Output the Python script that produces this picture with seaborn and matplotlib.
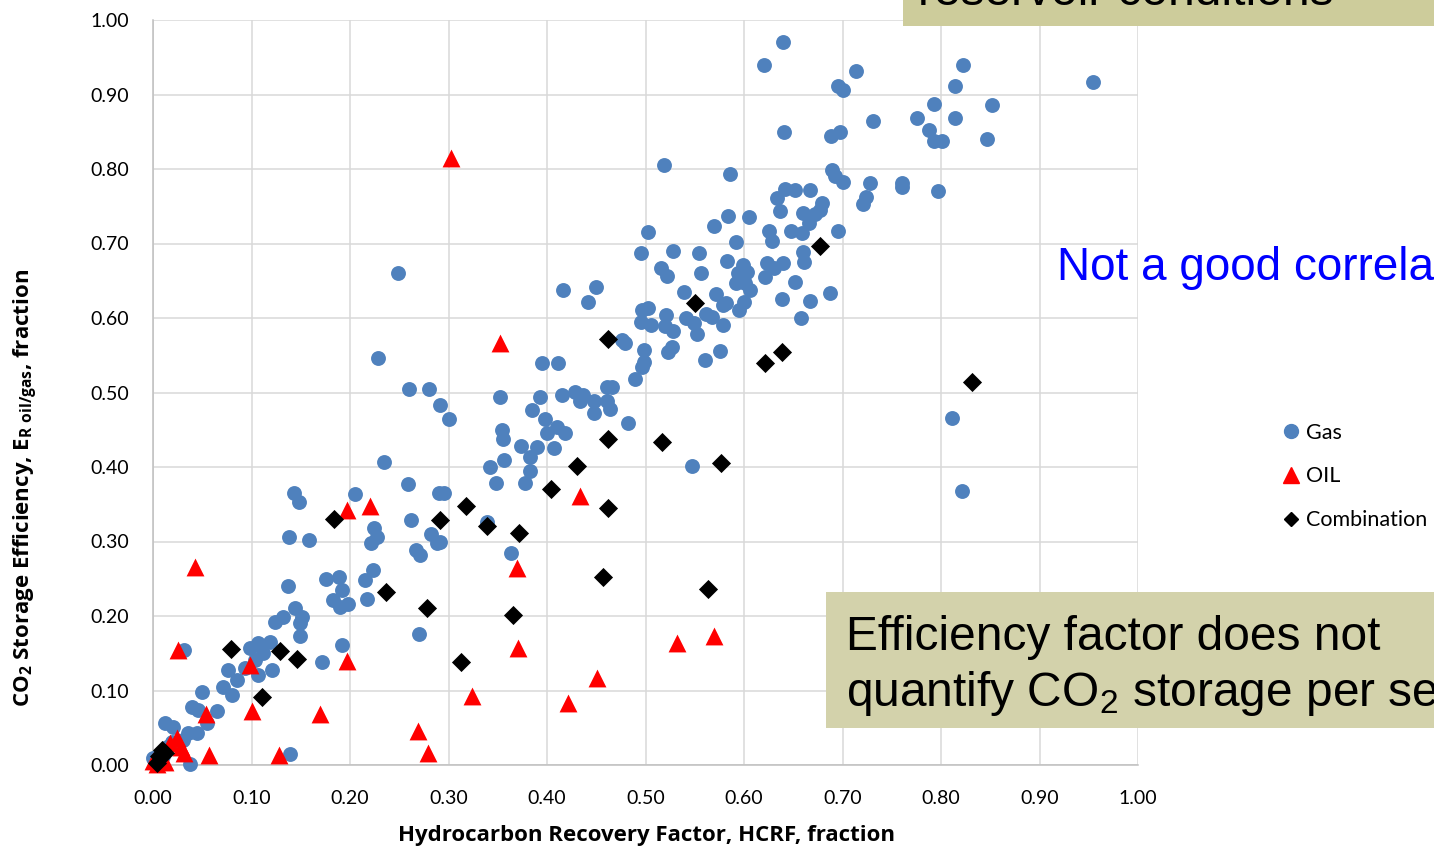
import numpy as np
import pandas as pd
import matplotlib
matplotlib.use('Agg')
import matplotlib.pyplot as plt
from matplotlib import font_manager
from matplotlib.lines import Line2D
from matplotlib.patches import Rectangle
import seaborn as sns

# data: (HCRF, E_R)
gas_x = [0.640, 0.620, 0.714, 0.822, 0.814, 0.695, 0.700, 0.954, 0.793, 0.852,
         0.776, 0.814, 0.731, 0.788, 0.793, 0.801, 0.847, 0.641, 0.697, 0.688,
         0.519, 0.586, 0.689, 0.692, 0.700, 0.728, 0.760, 0.760, 0.797, 0.724,
         0.721, 0.642, 0.652, 0.667, 0.634, 0.679, 0.637, 0.660, 0.672, 0.677,
         0.666, 0.584, 0.605, 0.570, 0.503, 0.625, 0.628, 0.648, 0.659, 0.695,
         0.592, 0.495, 0.528, 0.554, 0.660, 0.661, 0.583, 0.599, 0.594, 0.592,
         0.601, 0.606, 0.623, 0.630, 0.621, 0.640, 0.516, 0.522, 0.556, 0.652,
         0.450, 0.442, 0.416, 0.539, 0.572, 0.579, 0.595, 0.600, 0.639, 0.667,
         0.687, 0.658, 0.496, 0.503, 0.495, 0.506, 0.521, 0.520, 0.528, 0.541,
         0.552, 0.549, 0.561, 0.568, 0.579, 0.476, 0.479, 0.603, 0.582, 0.249,
         0.811, 0.821, 0.498, 0.498, 0.523, 0.527, 0.560, 0.576,
         0.448, 0.464, 0.482, 0.489, 0.496, 0.415, 0.428, 0.437, 0.434, 0.448,
         0.461, 0.461, 0.466, 0.393, 0.385, 0.398, 0.400, 0.410, 0.418, 0.407,
         0.390, 0.383, 0.383, 0.378, 0.352, 0.354, 0.355, 0.374, 0.356, 0.342,
         0.348, 0.395, 0.411, 0.291, 0.301, 0.295, 0.291, 0.547, 0.363, 0.339,
         0.228, 0.260, 0.280, 0.235, 0.259, 0.290, 0.143, 0.148, 0.205, 0.224,
         0.227, 0.221, 0.262, 0.282, 0.288, 0.267, 0.271, 0.138, 0.158,
         0.137, 0.176, 0.189, 0.192, 0.183, 0.190, 0.198, 0.215, 0.223, 0.217,
         0.124, 0.132, 0.144, 0.151, 0.149, 0.149, 0.098, 0.107, 0.119, 0.112,
         0.104, 0.121, 0.107, 0.076, 0.085, 0.071, 0.080, 0.093, 0.031, 0.172,
         0.192, 0.270, 0.050, 0.040, 0.046, 0.065, 0.055, 0.012, 0.020, 0.036,
         0.045, 0.030, 0.019, 0.014, 0.038, 0.139, 0.000, 0.005, 0.010, 0.006]
gas_y = [0.970, 0.940, 0.931, 0.939, 0.911, 0.911, 0.906, 0.917, 0.887, 0.886,
         0.868, 0.868, 0.865, 0.852, 0.837, 0.838, 0.840, 0.849, 0.850, 0.844,
         0.806, 0.793, 0.799, 0.790, 0.783, 0.781, 0.781, 0.776, 0.771, 0.763,
         0.753, 0.773, 0.772, 0.772, 0.761, 0.754, 0.744, 0.741, 0.740, 0.745,
         0.727, 0.737, 0.736, 0.723, 0.715, 0.717, 0.703, 0.717, 0.714, 0.717,
         0.702, 0.687, 0.690, 0.687, 0.688, 0.675, 0.676, 0.671, 0.660, 0.647,
         0.647, 0.638, 0.674, 0.667, 0.655, 0.674, 0.667, 0.656, 0.660, 0.648,
         0.641, 0.621, 0.638, 0.635, 0.632, 0.617, 0.611, 0.621, 0.625, 0.623,
         0.633, 0.600, 0.611, 0.614, 0.595, 0.591, 0.604, 0.589, 0.582, 0.600,
         0.579, 0.593, 0.606, 0.602, 0.591, 0.570, 0.566, 0.662, 0.620, 0.660,
         0.466, 0.368, 0.557, 0.541, 0.555, 0.561, 0.544, 0.556,
         0.472, 0.478, 0.459, 0.518, 0.534, 0.497, 0.501, 0.497, 0.488, 0.488,
         0.488, 0.508, 0.508, 0.494, 0.477, 0.464, 0.445, 0.454, 0.446, 0.425,
         0.427, 0.413, 0.394, 0.379, 0.494, 0.450, 0.437, 0.428, 0.409, 0.400,
         0.378, 0.539, 0.539, 0.483, 0.464, 0.365, 0.300, 0.401, 0.285, 0.326,
         0.546, 0.505, 0.505, 0.407, 0.377, 0.365, 0.365, 0.353, 0.364, 0.318,
         0.306, 0.298, 0.329, 0.310, 0.298, 0.289, 0.282, 0.306, 0.302,
         0.240, 0.250, 0.252, 0.235, 0.221, 0.212, 0.216, 0.248, 0.262, 0.223,
         0.192, 0.199, 0.211, 0.199, 0.191, 0.173, 0.157, 0.164, 0.165, 0.150,
         0.141, 0.128, 0.121, 0.128, 0.114, 0.105, 0.094, 0.130, 0.154, 0.138,
         0.161, 0.176, 0.098, 0.078, 0.074, 0.072, 0.056, 0.056, 0.051, 0.043,
         0.043, 0.034, 0.031, 0.024, 0.002, 0.015, 0.010, 0.002, 0.012, 0.000]

oil_x = [0.303, 0.352, 0.043, 0.197, 0.220, 0.434, 0.370, 0.025, 0.197, 0.098,
         0.371, 0.532, 0.570, 0.054, 0.170, 0.100, 0.324, 0.421, 0.451, 0.269,
         0.279, 0.128, 0.057, 0.024, 0.028, 0.017, 0.031, 0.012, 0.004, 0.000]
oil_y = [0.815, 0.566, 0.266, 0.342, 0.347, 0.361, 0.264, 0.154, 0.139, 0.134,
         0.157, 0.164, 0.173, 0.069, 0.069, 0.072, 0.092, 0.083, 0.117, 0.045,
         0.016, 0.013, 0.013, 0.036, 0.024, 0.030, 0.016, 0.004, 0.002, 0.005]

comb_x = [0.677, 0.550, 0.462, 0.639, 0.621, 0.831, 0.462, 0.517, 0.577, 0.430,
          0.404, 0.318, 0.291, 0.184, 0.339, 0.372, 0.462, 0.457, 0.563, 0.237,
          0.278, 0.365, 0.313, 0.146, 0.129, 0.079, 0.111, 0.009, 0.006, 0.004,
          0.012]
comb_y = [0.696, 0.620, 0.572, 0.554, 0.539, 0.514, 0.437, 0.433, 0.406, 0.402,
          0.370, 0.348, 0.329, 0.330, 0.321, 0.312, 0.345, 0.252, 0.236, 0.232,
          0.211, 0.201, 0.138, 0.142, 0.153, 0.156, 0.091, 0.020, 0.012, 0.003,
          0.016]

ticks = [0.0, 0.1, 0.2, 0.3, 0.4, 0.5, 0.6, 0.7, 0.8, 0.9, 1.0]


def has_font(name):
    try:
        font_manager.findfont(name, fallback_to_default=False)
        return True
    except Exception:
        return False


box_font = 'Liberation Sans Narrow' if has_font('Liberation Sans Narrow') else 'Liberation Sans'
box_size = 36 if box_font == 'Liberation Sans Narrow' else 34.5
label_font = 'Open Sans'

sns.set_style('white')
plt.rcParams['font.family'] = ['Lato', 'DejaVu Sans']
plt.rcParams['text.color'] = 'black'
plt.rcParams['mathtext.fontset'] = 'custom'
plt.rcParams['mathtext.rm'] = label_font + ':bold'
plt.rcParams['mathtext.it'] = label_font + ':bold'
plt.rcParams['mathtext.bf'] = label_font + ':bold'
plt.rcParams['mathtext.sf'] = box_font
plt.rcParams['mathtext.default'] = 'rm'

W, H = 1434, 849
fig = plt.figure(figsize=(W / 100, H / 100), dpi=100)
ax = fig.add_axes([153 / W, 1 - 765 / H, (1138 - 153) / W, (765 - 20) / H])

sns.scatterplot(x=gas_x, y=gas_y, ax=ax, marker='o', s=115, color='#4f81bd',
                linewidth=0, clip_on=False, zorder=3)
sns.scatterplot(x=oil_x, y=oil_y, ax=ax, marker='^', s=165, color='#ff0000',
                linewidth=0, clip_on=False, zorder=4)
sns.scatterplot(x=comb_x, y=comb_y, ax=ax, marker='D', s=95, color='black',
                linewidth=0, clip_on=False, zorder=5)

ax.set_xlim(0, 1)
ax.set_ylim(0, 1)
ax.set_xticks(ticks)
ax.set_yticks(ticks)
ax.set_xticklabels([f'{t:.2f}' for t in ticks])
ax.set_yticklabels([f'{t:.2f}' for t in ticks])
ax.tick_params(axis='both', length=0, labelsize=14, colors='black')
ax.tick_params(axis='x', pad=18)
ax.tick_params(axis='y', pad=17)
ax.grid(True, color='#d9d9d9', linewidth=1.1)
ax.set_axisbelow(True)
for side in ['top', 'right']:
    ax.spines[side].set_visible(False)
for side in ['left', 'bottom']:
    ax.spines[side].set_color('#bfbfbf')
    ax.spines[side].set_linewidth(1.1)
ax.set_xlabel('')
ax.set_ylabel('')

fig.text(646 / W, 1 - 835 / H, 'Hydrocarbon Recovery Factor, HCRF, fraction',
         fontsize=16, fontweight='bold', family=label_font, ha='center', va='center')
fig.text(26 / W, 1 - 488 / H,
         r'CO$_2$ Storage Efficiency, E$_{R\ oil/gas}$, fraction',
         fontsize=16, fontweight='bold', family=label_font, rotation=90,
         ha='center', va='center')

handles = [
    Line2D([], [], marker='o', linestyle='none', color='#4f81bd', markersize=10),
    Line2D([], [], marker='^', linestyle='none', color='#ff0000', markersize=11),
    Line2D([], [], marker='D', linestyle='none', color='black', markersize=7.5),
]
leg = fig.legend(handles, ['Gas', 'OIL', 'Combination'], loc='upper left',
                 bbox_to_anchor=(1272 / W, 1 - 412 / H), bbox_transform=fig.transFigure,
                 frameon=False, fontsize=15.5, handlelength=0.8, handletextpad=0.3,
                 labelspacing=1.1, borderpad=0)
for t in leg.get_texts():
    t.set_color('black')

fig.text(1057 / W, 1 - 280 / H, 'Not a good correlation', color='#0000ff',
         fontsize=33, family='Liberation Sans', va='baseline', ha='left')

# annotation boxes
fig.patches.append(Rectangle((903 / W, 1 - 26 / H), 1, 30 / H,
                             transform=fig.transFigure, facecolor='#cdcc9b',
                             edgecolor='none', zorder=5))
fig.text(918 / W, 1 - 5 / H, 'reservoir conditions', fontsize=box_size,
         family=box_font, va='baseline', ha='left', zorder=6)
fig.patches.append(Rectangle((826 / W, 1 - 728 / H), 1, 136 / H,
                             transform=fig.transFigure, facecolor='#d3d2ab',
                             edgecolor='none', zorder=5))
fig.text(846 / W, 1 - 650 / H, 'Efficiency factor does not', fontsize=box_size,
         family=box_font, va='baseline', ha='left', zorder=6)
fig.text(846 / W, 1 - 706 / H, r'quantify $\mathsf{CO_2}$ storage per se',
         fontsize=box_size, family=box_font, va='baseline', ha='left', zorder=6)

fig.savefig('out.png', dpi=100)
